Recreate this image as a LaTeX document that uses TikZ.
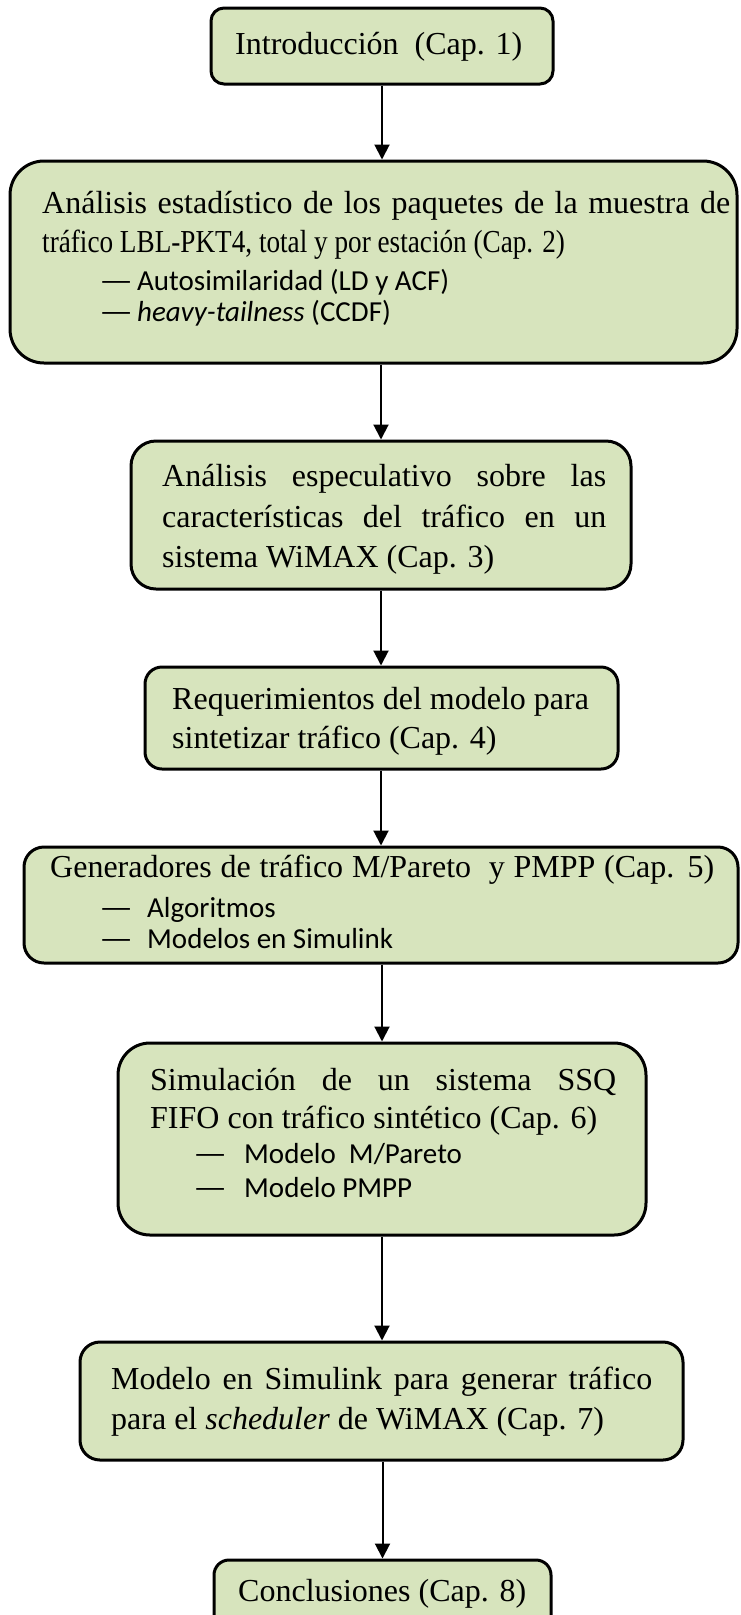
\documentclass[tikz,border=0pt]{standalone}
\usepackage{fontspec}
\usepackage{graphicx}
\setmainfont{Liberation Serif}
\newfontfamily\calibrifont{Carlito}
\usetikzlibrary{arrows.meta}
\definecolor{boxfill}{RGB}{215,228,189}
\newcommand{\bdash}{\scalebox{1.3}[1]{—}}
\tikzset{
  box/.style={draw=black, line width=3pt, fill=boxfill, rectangle, inner sep=0pt},
  txt/.style={anchor=base west, inner sep=0pt, font=\fontsize{32}{38}\selectfont},
  btxt/.style={anchor=base west, inner sep=0pt, font=\calibrifont\fontsize{29}{35}\selectfont},
  arr/.style={line width=2pt, -{Triangle[width=15pt,length=15pt]}},
}
\begin{document}
\begin{tikzpicture}[x=1pt,y=-1pt]
\useasboundingbox (0,0) rectangle (740,1615);
\clip (0,0) rectangle (740,1615);
% boxes
\node[box, rounded corners=13pt, minimum width=342pt, minimum height=76pt] (b1) at (382,46) {};
\node[box, rounded corners=34pt, minimum width=727pt, minimum height=202pt] (b2) at (373.5,262) {};
\node[box, rounded corners=25pt, minimum width=500pt, minimum height=148pt] (b3) at (381,515) {};
\node[box, rounded corners=17pt, minimum width=473pt, minimum height=102pt] (b4) at (381.5,718) {};
\node[box, rounded corners=20pt, minimum width=714pt, minimum height=116pt] (b5) at (381,905) {};
\node[box, rounded corners=32pt, minimum width=528pt, minimum height=192pt] (b6) at (382,1139) {};
\node[box, rounded corners=20pt, minimum width=603pt, minimum height=118pt] (b7) at (381.5,1401) {};
\node[box, rounded corners=15pt, minimum width=337pt, minimum height=102pt] (b8) at (382.5,1611) {};
% texts
\node[txt] (t1) at (235,54) {Introducción\ \ (Cap. 1)};
\node[txt] (t2a) at (42,213) {\makebox[688pt][s]{Análisis estadístico de los paquetes de la muestra de}};
\node[txt] (t2b) at (42,252) {\scalebox{0.85}[1]{tráfico LBL-PKT4, total y por estación (Cap. 2)}};
\node[btxt] (d2a) at (99,290) {\bdash};
\node[btxt] (t2c) at (137,290) {Autosimilaridad (LD y ACF)};
\node[btxt] (d2b) at (99,321) {\bdash};
\node[btxt] (t2d) at (137,321) {\textit{heavy-tailness} (CCDF)};
\node[txt] (t3a) at (162,486) {\makebox[444pt][s]{Análisis especulativo sobre las}};
\node[txt] (t3b) at (162,527) {\makebox[444pt][s]{características del tráfico en un}};
\node[txt] (t3c) at (162,567) {sistema WiMAX (Cap. 3)};
\node[txt] (t4a) at (172,709) {Requerimientos del modelo para};
\node[txt] (t4b) at (172,748) {sintetizar tráfico (Cap. 4)};
\node[txt] (t5a) at (50,877) {\makebox[664pt][s]{Generadores de tráfico M/Pareto\ \ y PMPP (Cap. 5)}};
\node[btxt] (d5a) at (99,917) {\bdash};
\node[btxt] (t5b) at (147,917) {Algoritmos};
\node[btxt] (d5b) at (99,948) {\bdash};
\node[btxt] (t5c) at (147,948) {Modelos en Simulink};
\node[txt] (t6a) at (150,1090) {\makebox[466pt][s]{Simulación de un sistema SSQ}};
\node[txt] (t6b) at (150,1128) {FIFO con tráfico sintético (Cap. 6)};
\node[btxt] (d6a) at (193,1163) {\bdash};
\node[btxt] (t6c) at (244,1163) {Modelo\ \ M/Pareto};
\node[btxt] (d6b) at (193,1197) {\bdash};
\node[btxt] (t6d) at (244,1197) {Modelo PMPP};
\node[txt] (t7a) at (111,1389) {\makebox[541pt][s]{Modelo en Simulink para generar tráfico}};
\node[txt] (t7b) at (111,1429) {para el \textit{scheduler} de WiMAX (Cap. 7)};
\node[txt] (t8) at (238,1601) {Conclusiones (Cap. 8)};
% arrows
\draw[arr] (b1.south) -- (b1.south |- b2.north);
\draw[arr] (b3.north |- b2.south) -- (b3.north);
\draw[arr] (b3.south) -- (b3.south |- b4.north);
\draw[arr] (b5.north |- b4.south) -- (b5.north);
\draw[arr] (b6.north |- b5.south) -- (b6.north);
\draw[arr] (b6.south) -- (b6.south |- b7.north);
\draw[arr] (b8.north |- b7.south) -- (b8.north);
\end{tikzpicture}
\end{document}
